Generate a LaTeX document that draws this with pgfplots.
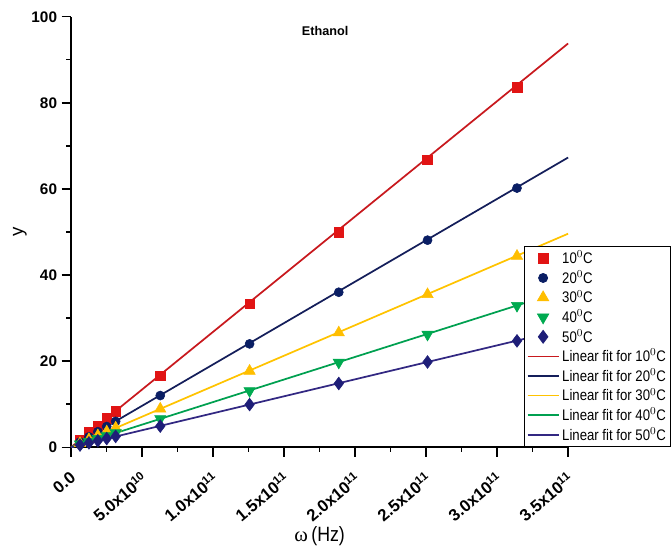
\documentclass[border=0pt]{standalone}
\usepackage{pgfplots}
\pgfplotsset{compat=1.18}
\usepackage{fontspec}
\setmainfont{Liberation Sans}
\newfontfamily\narrow[FakeStretch=0.86]{Liberation Sans}
\newfontfamily\serifgr{Liberation Serif}

\definecolor{c10}{RGB}{225,20,20}
\definecolor{c20}{RGB}{10,30,100}
\definecolor{c30}{RGB}{255,190,0}
\definecolor{c40}{RGB}{0,170,80}
\definecolor{c50}{RGB}{30,30,120}
\definecolor{f10}{RGB}{200,25,30}
\definecolor{f20}{RGB}{20,30,90}
\definecolor{f30}{RGB}{255,195,0}
\definecolor{f40}{RGB}{0,160,80}
\definecolor{f50}{RGB}{50,40,130}

\pgfplotsset{
  markleg/.style={legend image code/.code={\draw[##1] plot coordinates {(0.41cm,0cm)};}},
  lineleg/.style={legend image code/.code={\draw[##1] (0cm,0cm) -- (0.82cm,0cm);}},
}

\begin{document}
\begin{tikzpicture}
  \begin{axis}[
    scale only axis,
    width=373pt, height=323pt,
    xmin=0, xmax=3.5e11,
    ymin=0, ymax=100,
    axis lines=left,
    axis line style={-, line width=1.1pt},
    tick align=outside,
    major tick length=7pt,
    minor tick length=3.5pt,
    every tick/.style={black, line width=1pt},
    scaled x ticks=false,
    xtick={0,5e10,1e11,1.5e11,2e11,2.5e11,3e11,3.5e11},
    xticklabels={0.0, 5.0x10$^{\mathbf{10}}$, 1.0x10$^{\mathbf{11}}$, 1.5x10$^{\mathbf{11}}$, 2.0x10$^{\mathbf{11}}$, 2.5x10$^{\mathbf{11}}$, 3.0x10$^{\mathbf{11}}$, 3.5x10$^{\mathbf{11}}$},
    minor x tick num=1,
    ytick={0,20,40,60,80,100},
    minor y tick num=1,
    xticklabel style={font=\bfseries\fontsize{12.5}{14}\selectfont, yshift=-5.5pt, xshift=-1pt, rotate=40, anchor=north east},
    yticklabel style={font=\bfseries\fontsize{11.5}{13}\selectfont},
    /pgf/number format/assume math mode=true,
    xlabel={{\serifgr ω}\,{\narrow(Hz)}},
    xlabel style={font=\fontsize{15.5}{17}\selectfont, at={(axis description cs:0.5,-0.206)}, anchor=center},
    ylabel={y},
    ylabel style={font=\fontsize{14}{16}\selectfont, at={(axis description cs:-0.103,0.5)}, anchor=center},
    title={Ethanol},
    title style={font=\bfseries\fontsize{9.5}{11}\selectfont, at={(0.511,0.97)}, anchor=north},
    clip=false,
    legend style={at={(1.207,0.0)}, anchor=south east, draw=black, line width=0.6pt,
      font=\narrow\fontsize{11.5}{12}\selectfont, row sep=-0.3pt, inner sep=1.5pt,
      legend cell align=left},
  ]
    % measured points
    \addplot [markleg, only marks, mark=square*, mark size=3.6pt, color=c10] coordinates {
      (6.28e9,1.7) (1.257e10,3.4) (1.885e10,5.0) (2.51e10,6.7) (3.14e10,8.3)
      (6.28e10,16.6) (1.257e11,33.3) (1.885e11,50.0) (2.51e11,66.8) (3.14e11,83.6)
    };
    \addplot [markleg, only marks, mark=*, mark size=3.4pt, color=c20] coordinates {
      (6.28e9,1.2) (1.257e10,2.4) (1.885e10,3.6) (2.51e10,4.8) (3.14e10,6.0)
      (6.28e10,12.0) (1.257e11,24.0) (1.885e11,36.0) (2.51e11,48.1) (3.14e11,60.2)
    };
    \addplot [markleg, only marks, mark=triangle*, mark size=4.9pt, color=c30] coordinates {
      (6.28e9,0.9) (1.257e10,1.8) (1.885e10,2.7) (2.51e10,3.6) (3.14e10,4.5)
      (6.28e10,8.9) (1.257e11,17.7) (1.885e11,26.6) (2.51e11,35.5) (3.14e11,44.4)
    };
    \addplot [markleg, only marks, mark=triangle*, mark options={rotate=180}, mark size=4.9pt, color=c40] coordinates {
      (6.28e9,0.7) (1.257e10,1.3) (1.885e10,2.0) (2.51e10,2.6) (3.14e10,3.3)
      (6.28e10,6.6) (1.257e11,13.1) (1.885e11,19.7) (2.51e11,26.2) (3.14e11,32.9)
    };
    \addplot [markleg, only marks, mark=diamond*, mark size=4.8pt, color=c50] coordinates {
      (6.28e9,0.5) (1.257e10,1.0) (1.885e10,1.5) (2.51e10,2.0) (3.14e10,2.5)
      (6.28e10,4.9) (1.257e11,9.9) (1.885e11,14.8) (2.51e11,19.8) (3.14e11,24.7)
    };
    % linear fits
    \addplot [lineleg, f10, line width=1.3pt] coordinates {(0,0) (3.5e11,93.8)};
    \addplot [lineleg, f20, line width=1.3pt] coordinates {(0,0) (3.5e11,67.3)};
    \addplot [lineleg, f30, line width=1.3pt] coordinates {(0,0) (3.5e11,49.6)};
    \addplot [lineleg, f40, line width=1.3pt] coordinates {(0,0) (3.5e11,36.7)};
    \addplot [lineleg, f50, line width=1.3pt] coordinates {(0,0) (3.5e11,27.6)};
    \legend{10$^0$C, 20$^0$C, 30$^0$C, 40$^0$C, 50$^0$C,
      Linear fit for 10$^0$C, Linear fit for 20$^0$C, Linear fit for 30$^0$C,
      Linear fit for 40$^0$C, Linear fit for 50$^0$C}
    % page frame with the reference's white margins
    \path (axis description cs:-0.143,-0.227) rectangle (axis description cs:1.209,1.039);
  \end{axis}
\end{tikzpicture}
\end{document}
